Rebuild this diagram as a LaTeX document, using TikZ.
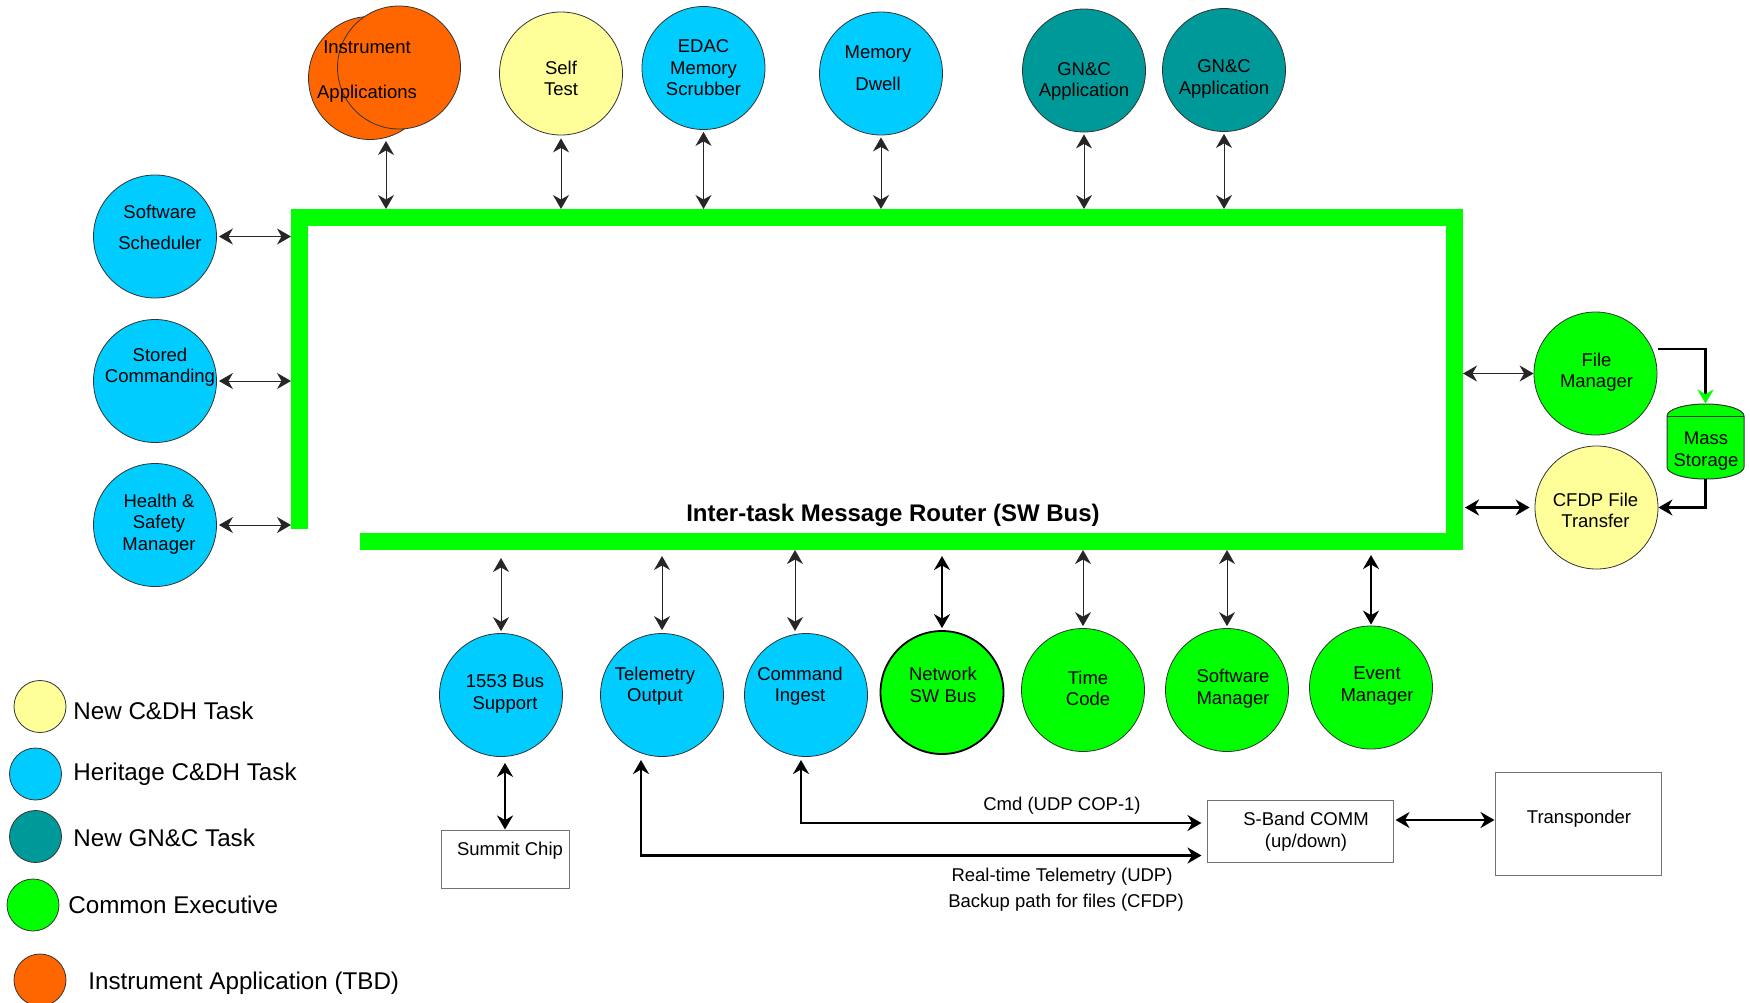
\documentclass[tikz,border=0pt]{standalone}
\usepackage{fontspec}
\setmainfont{Liberation Sans}
\usetikzlibrary{arrows.meta,calc}
\definecolor{cyel}{HTML}{FFFF99}
\definecolor{cblue}{HTML}{00CCFF}
\definecolor{cteal}{HTML}{009999}
\definecolor{cgreen}{HTML}{00FF00}
\definecolor{corange}{HTML}{FF6600}
\newcommand\tsk[7][]{%
  \node[task,fill=#3,#1] (#2) at (#4) {};
  \node[txt] (#2-t) at ($(#2)+(#5,#6)$) {#7};}
\tikzset{
  task/.style={circle, draw=black!80, line width=0.4pt, minimum size=61.5pt, inner sep=0pt},
  legc/.style={circle, draw=black!80, line width=0.4pt, minimum size=26pt, inner sep=0pt},
  txt/.style={font=\fontsize{9.25}{10.75}\selectfont, align=center, inner sep=0pt},
  legt/.style={font=\fontsize{12.1}{14}\selectfont, anchor=west, inner sep=0pt},
  bi/.style={{Stealth[length=7pt,width=8pt]}-{Stealth[length=7pt,width=8pt]}, line width=0.5pt, draw=black!85},
  bithick/.style={{Stealth[length=7pt,width=8pt]}-{Stealth[length=7pt,width=8pt]}, line width=1.1pt, draw=black},
  conn/.style={{Stealth[length=7pt,width=8pt]}-{Stealth[length=7pt,width=8pt]}, line width=1.4pt, draw=black},
  boxst/.style={draw=black!55, line width=0.5pt, inner sep=0pt, fill=white},
  bus/.style={line width=8.5pt, draw=cgreen, line join=miter},
}
\begin{document}
\begin{tikzpicture}[x=0.5pt,y=-0.5pt]
\useasboundingbox (0,0) rectangle (1750,1002);
\fill[white] (0,0) rectangle (1750,1002);

% bus
\draw[bus] (299.5,529) -- (299.5,217) -- (1454,217) -- (1454,541) -- (360,541);
\node[font=\bfseries\fontsize{12}{14}\selectfont, inner sep=0pt] (title) at (893,515) {Inter-task Message Router (SW Bus)};
\coordinate (bt) at (0,209);
\coordinate (bl) at (291,0);
\coordinate (br) at (1463,0);
\coordinate (bb) at (0,549);

% top tasks
\node[task,fill=corange] (iaback) at (370,78) {};
\node[task,fill=corange] (iafront) at (399,67.5) {};
\node[txt] (ia-t) at (367,71.5) {Instrument\\[11.5pt]Applications};
\tsk{st}{cyel}{561,73.5}{0}{5}{Self\\Test}
\tsk{edac}{cblue}{703.5,68}{0}{0}{EDAC\\Memory\\Scrubber}
\tsk{md}{cblue}{881,73.5}{-3}{-5.5}{Memory\\[5pt]Dwell}
\tsk{gnca}{cteal}{1084,70.5}{0}{11}{GN\&C\\Application}
\tsk{gncb}{cteal}{1224,70}{0}{9}{GN\&C\\Application}

% left tasks
\tsk{ss}{cblue}{155,236.5}{5}{-9}{Software\\[4.5pt]Scheduler}
\tsk{sc}{cblue}{155,381}{5}{-14}{Stored\\Commanding}
\tsk{hs}{cblue}{155,525}{4}{-1}{Health \&\\Safety\\Manager}

% right tasks
\tsk{fm}{cgreen}{1595.5,373.5}{1}{-1.5}{File\\Manager}
\tsk{cfdp}{cyel}{1596.5,507.5}{-1}{3}{CFDP File\\Transfer}

% mass storage cylinder
\filldraw[fill=cgreen, draw=black!80, line width=0.5pt] (1667,416) -- (1667,467)
  arc[start angle=180, end angle=0, x radius=38.5, y radius=12] -- (1744,416)
  arc[start angle=0, end angle=-180, x radius=38.5, y radius=12] -- cycle;
\draw[draw=black!80, line width=0.5pt] (1667,416) -- (1744,416);
\node[inner sep=0pt, minimum width=38.5pt, minimum height=37.5pt] (ms) at (1705.5,441.5) {};
\node[txt] (ms-t) at (1706,451) {Mass\\Storage};

% bottom tasks
\tsk{bsup}{cblue}{501,695}{4}{-1}{1553 Bus\\Support}
\tsk{tlm}{cblue}{662,695}{-7}{-9}{Telemetry\\Output}
\tsk{ci}{cblue}{806,695}{-6}{-9}{Command\\Ingest}
\tsk[line width=0.9pt, draw=black]{nsb}{cgreen}{942,692.5}{1}{-7.5}{Network\\SW Bus}
\tsk{tc}{cgreen}{1083,690}{5}{-1.5}{Time\\Code}
\tsk{swm}{cgreen}{1227,690}{6}{-1.5}{Software\\Manager}
\tsk{evm}{cgreen}{1371,687.5}{6}{-1.5}{Event\\Manager}

% boxes
\node[boxst, minimum width=64pt, minimum height=29pt] (summit) at (505,859) {};
\node[txt] (summit-t) at (510,851) {Summit Chip};
\node[boxst, minimum width=93pt, minimum height=31pt] (sband) at (1300,831) {};
\node[txt] (sband-t) at (1306,831.5) {S-Band COMM\\(up/down)};
\node[boxst, minimum width=83pt, minimum height=51.5pt] (xpdr) at (1578,823.5) {};
\node[txt] (xpdr-t) at (1579,819) {Transponder};

% top connectors
\coordinate (iabot) at (386,141);
\draw[bi] (iabot) -- (iabot |- bt);
\draw[bi, shorten <=1.5pt] (st.south) -- (st.south |- bt);
\draw[bi, shorten <=1pt] (edac.south) -- (edac.south |- bt);
\draw[bi, shorten <=1pt] (md.south) -- (md.south |- bt);
\draw[bi, shorten <=1pt] (gnca.south) -- (gnca.south |- bt);
\draw[bi, shorten <=1pt] (gncb.south) -- (gncb.south |- bt);

% left connectors
\draw[bi, shorten <=1pt] (ss.east) -- (ss.east -| bl);
\draw[bi, shorten <=1pt] (sc.east) -- (sc.east -| bl);
\draw[bi, shorten <=1pt] (hs.east) -- (hs.east -| bl);

% right connectors
\draw[bi] (fm.west -| br) -- (fm.west);
\draw[bithick, shorten <=1pt, shorten >=2.5pt] (cfdp.west -| br) -- (cfdp.west);
\coordinate (fmo) at (1658,349);
\draw[line width=1.3pt, -{Stealth[length=7pt,width=8pt,green]}] (fmo) -| (ms.north);
\draw[line width=1.3pt, -{Stealth[length=7pt,width=8pt]}] (ms.south) |- (cfdp.east);

% bottom connectors
\draw[bi, shorten <=4.5pt, shorten >=1pt] (bsup.north |- bb) -- (bsup.north);
\draw[bi, shorten <=3.5pt, shorten >=1.5pt] (tlm.north |- bb) -- (tlm.north);
\coordinate (citop) at (795,633);
\draw[bi, shorten <=0.5pt, shorten >=1pt] (citop |- bb) -- (citop);
\draw[bithick, shorten <=3.5pt, shorten >=1pt] (nsb.north |- bb) -- (nsb.north);
\draw[bi, shorten <=0.5pt, shorten >=1pt] (tc.north |- bb) -- (tc.north);
\draw[bi, shorten <=0.5pt, shorten >=1pt] (swm.north |- bb) -- (swm.north);
\draw[bithick, shorten <=3pt, shorten >=0.5pt] (evm.north |- bb) -- (evm.north);

\draw[bithick, shorten <=3pt] (bsup.south -| summit.north) -- (summit.north);
\coordinate (tlmb) at (641,760);
\coordinate (cib) at (801,760);
\draw[conn, shorten >=2.5pt] (tlmb) |- ($(sband.south west)+(0,-7)$);
\draw[conn, line width=1.1pt, shorten >=2.5pt] (cib) |- ($(sband.west)+(0,-8)$);
\coordinate (sx) at ($(sband.east)+(0,-11)$);
\draw[bithick, shorten <=1pt] (sx) -- (sx -| xpdr.west);

\node[txt] (lcmd) at (1062,806) {Cmd (UDP COP-1)};
\node[txt] (ltlm) at (1062,877) {Real-time Telemetry (UDP)};
\node[txt] (lbak) at (1066,903) {Backup path for files (CFDP)};

% legend
\node[legc, fill=cyel] (l1) at (40,706.5) {};
\node[legt] (l1-t) at (73,711) {New C\&DH Task};
\node[legc, fill=cblue] (l2) at (35.5,774) {};
\node[legt] (l2-t) at (73,774) {Heritage C\&DH Task};
\node[legc, fill=cteal] (l3) at (35.5,836.5) {};
\node[legt] (l3-t) at (73,838) {New GN\&C Task};
\node[legc, fill=cgreen] (l4) at (33,905) {};
\node[legt] (l4-t) at (68,905) {Common Executive};
\node[legc, fill=corange] (l5) at (40,980) {};
\node[legt] (l5-t) at (88,983) {Instrument Application (TBD)};
\end{tikzpicture}
\end{document}
